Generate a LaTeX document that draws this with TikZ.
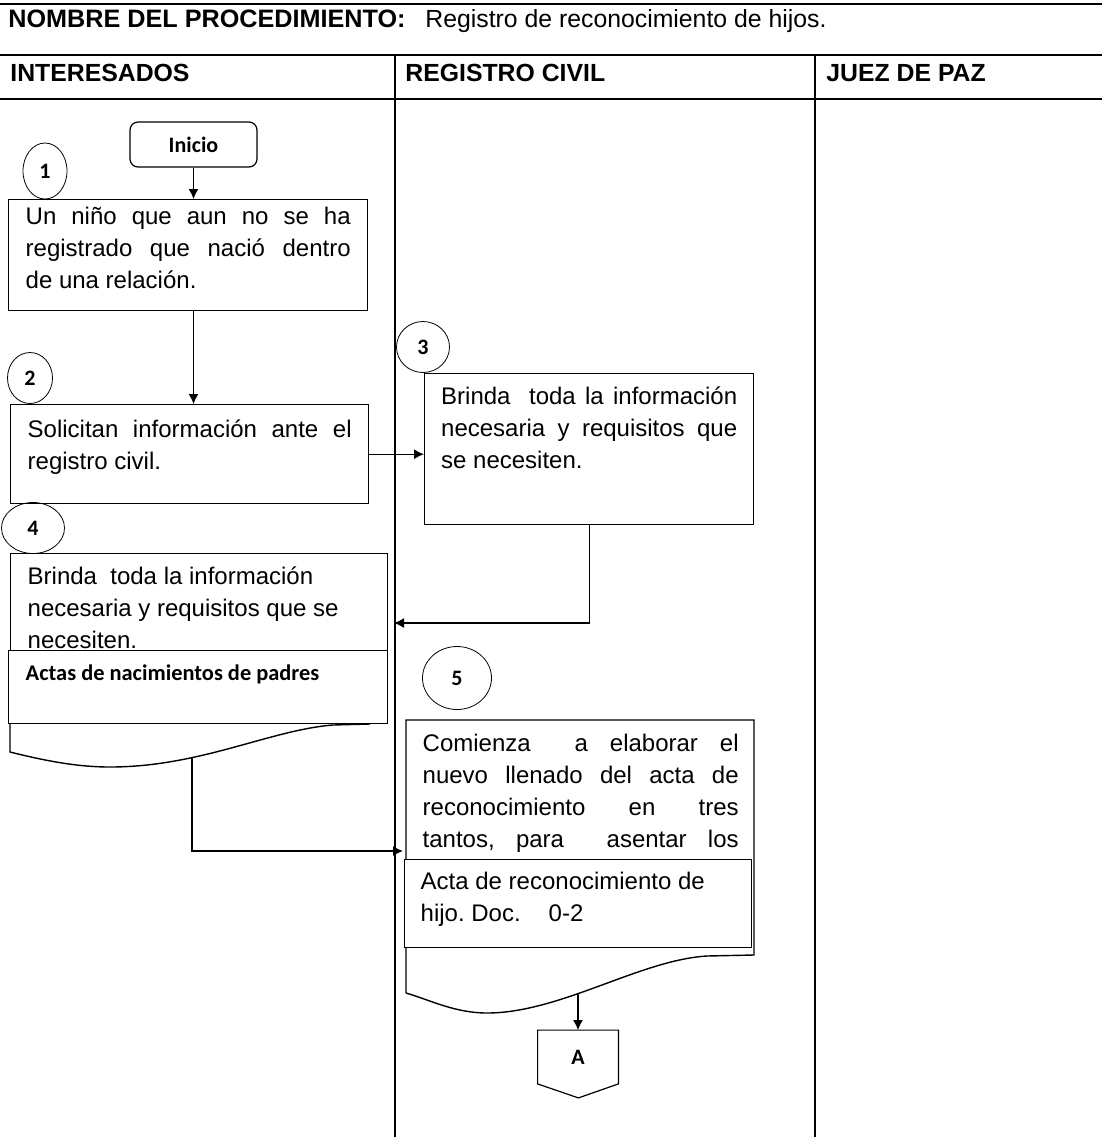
\documentclass[tikz,border=0pt]{standalone}
\usepackage{fontspec}
\setmainfont{Liberation Sans}
\newfontfamily\calibri{Carlito}
\usetikzlibrary{shapes.geometric,arrows.meta}
\frenchspacing

\begin{document}
\begin{tikzpicture}[
  x=0.5pt, y=-0.5pt,
  every node/.style={inner sep=0pt},
  lane/.style={line width=0.8pt},
  box/.style={draw, line width=0.7pt, fill=white, anchor=north west, font=\fontsize{12}{16}\selectfont},
  num/.style={draw, ellipse, line width=0.4pt, font=\calibri\bfseries\fontsize{11}{13}\selectfont},
  flow/.style={-{Latex[length=5pt,width=5pt]}, line width=0.7pt},
  head/.style={anchor=base west, font=\bfseries\fontsize{12.4}{14}\selectfont}
]
  \useasboundingbox (0,0) rectangle (1102,1137);

  \draw[lane, line width=1.2pt] (0,4) -- (1102,4);
  \draw[lane] (0,55) -- (1102,55);
  \draw[lane] (0,99) -- (1102,99);
  \draw[lane] (395,55) -- (395,1137);
  \draw[lane] (815,55) -- (815,1137);

  \node[head, font=\bfseries\fontsize{12.6}{14}\selectfont] (titulo) at (8,27) {NOMBRE DEL PROCEDIMIENTO:};
  \node[anchor=base west, font=\fontsize{12.4}{14}\selectfont] (nombre) at (425,27) {Registro de reconocimiento de hijos.};
  \node[head] (interesados) at (10,81) {INTERESADOS};
  \node[head] (registro) at (405,81) {REGISTRO CIVIL};
  \node[head] (juez) at (826,81) {JUEZ DE PAZ};

  \node[draw, rounded corners=4pt, line width=0.6pt, minimum width=63.5pt, minimum height=22.5pt,
    font=\calibri\bfseries\fontsize{11}{13}\selectfont] (inicio) at (193.5,144.5) {Inicio};

  \node[num, minimum width=22pt, minimum height=28pt] (c1) at (45,171) {1};
  \node[box, minimum width=179.5pt, minimum height=55.5pt] (paso1) at (8,199)
    {\parbox[c][48.5pt][t]{162.5pt}{Un niño que aun no se ha\linebreak registrado que nació dentro\linebreak de una relación.}};

  \node[num, minimum width=22.5pt, minimum height=25.5pt] (c2) at (30,378) {2};
  \node[box, minimum width=179pt, minimum height=49.5pt] (paso2) at (10,404)
    {\parbox[c][34.5pt][t]{162pt}{Solicitan información ante el\linebreak registro civil.}};

  \node[num, minimum width=26.5pt, minimum height=25.5pt] (c3) at (423,347) {3};
  \node[box, minimum width=164.5pt, minimum height=75.5pt] (paso3) at (424,373)
    {\parbox[c][62.5pt][t]{148pt}{Brinda\ \ toda la información\linebreak necesaria y requisitos que\linebreak se necesiten.}};

  \node[num, minimum width=31.5pt, minimum height=25.5pt] (c4) at (33,528) {4};
  \draw[line width=0.7pt] (10,723) -- (10,752) .. controls (50,762) and (80,767) .. (110,767)
    .. controls (200,767) and (270,730) .. (333,725) -- (370,724);
  \node[box, minimum width=188.5pt, minimum height=48.5pt] (paso4) at (10,553)
    {\parbox[c][35.5pt][t]{171.5pt}{\raggedright Brinda\ \ toda la información\\ necesaria y requisitos que se\\ necesiten.}};
  \node[box, minimum width=189.5pt, minimum height=36.5pt, font=\calibri\bfseries\fontsize{11.2}{13}\selectfont] (actas) at (8,650)
    {\parbox[c][22.5pt][t]{172.5pt}{Actas de nacimientos de padres}};

  \node[num, minimum width=34.5pt, minimum height=31.5pt] (c5) at (457,678) {5};
  \draw[line width=0.7pt] (406,993) -- (406,720) -- (754,720) -- (754,955) -- (707,956)
    .. controls (640,960) and (560,1013) .. (487,1013) .. controls (455,1013) and (430,1000) .. (406,993);
  \node[box, draw=none, fill=none, minimum width=174pt, minimum height=69.5pt] (paso5) at (406,720)
    {\parbox[c][56.5pt][t]{158pt}{Comienza\ \ a elaborar el\linebreak nuevo llenado del acta de\linebreak reconocimiento en tres\linebreak tantos, para\ \ asentar los\linebreak\mbox{}}};
  \node[box, minimum width=173.5pt, minimum height=44pt] (acta) at (404,859)
    {\parbox[c][32pt][t]{157.5pt}{\raggedright Acta de reconocimiento de\\ hijo. Doc.\hspace{14pt}0-2}};

  \node[minimum width=40pt, minimum height=26.5pt, font=\calibri\bfseries\fontsize{11}{13}\selectfont] (conA) at (578,1057) {A};
  \draw[line width=0.6pt] (conA.north west) -- (conA.north east) -- (conA.south east) -- ++(-40,14) -- (conA.south west) -- cycle;

  \coordinate (r3) at (394,623);
  \coordinate (w4) at (192,757);
  \coordinate (r4) at (403,851);
  \coordinate (w5) at (578,994);

  \draw[flow] (inicio.south) -- (inicio.south |- paso1.north);
  \draw[flow] (inicio.south |- paso1.south) -- (inicio.south |- paso2.north);
  \draw[flow] (paso2.east) -- (paso2.east -| paso3.west);
  \draw[flow] (paso3.south) |- (r3);
  \draw[flow] (w4) |- (r4);
  \draw[flow] (w5) -- (conA.north);
\end{tikzpicture}
\end{document}
